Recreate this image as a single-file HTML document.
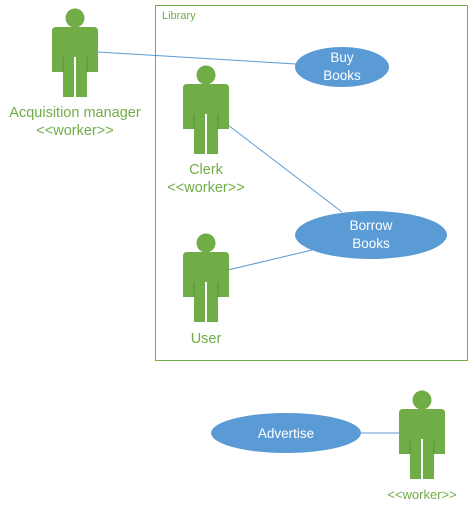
<!DOCTYPE html><html><head><style>body{margin:0;background:#fff}</style></head><body>
<svg width="470" height="513" xmlns="http://www.w3.org/2000/svg" font-family="Liberation Sans, sans-serif">
<defs><g id="a">
<circle cx="0" cy="-14" r="9.5" fill="#70ad47"/>
<path d="M-23,-1 Q-23,-5 -19,-5 L19,-5 Q23,-5 23,-1 L23,40 L12,40 L12,65 L1,65 L1,25 L-1,25 L-1,65 L-12,65 L-12,40 L-23,40 Z" fill="#70ad47"/>
<line x1="-12" y1="25" x2="-12" y2="40" stroke="#5a8f38" stroke-width="1"/>
<line x1="12" y1="25" x2="12" y2="40" stroke="#5a8f38" stroke-width="1"/>
</g></defs>
<rect x="155.5" y="5.5" width="312" height="355" fill="none" stroke="#70ad47"/>
<text x="162" y="19" font-size="11" fill="#70ad47">Library</text>
<g stroke="#5b9bd5" stroke-width="1">
<line x1="98" y1="52" x2="296" y2="64"/>
<line x1="228" y1="125" x2="342" y2="212"/>
<line x1="228" y1="270" x2="312" y2="250"/>
<line x1="360" y1="433" x2="400" y2="433"/>
</g>
<ellipse cx="342" cy="67" rx="47" ry="20" fill="#5b9bd5"/>
<ellipse cx="371" cy="235" rx="76" ry="24" fill="#5b9bd5"/>
<ellipse cx="286" cy="433" rx="75" ry="20" fill="#5b9bd5"/>
<g fill="#fff" font-size="13.5" text-anchor="middle">
<text x="342" y="62">Buy</text><text x="342" y="80">Books</text>
<text x="371" y="230">Borrow</text><text x="371" y="248">Books</text>
<text x="286" y="438">Advertise</text>
</g>
<use href="#a" x="75" y="32"/>
<use href="#a" x="206" y="89"/>
<use href="#a" x="206" y="257"/>
<use href="#a" x="422" y="414"/>
<g fill="#70ad47" font-size="14.5" text-anchor="middle">
<text x="75" y="117">Acquisition manager</text><text x="75" y="135">&lt;&lt;worker&gt;&gt;</text>
<text x="206" y="174">Clerk</text><text x="206" y="192">&lt;&lt;worker&gt;&gt;</text>
<text x="206" y="343">User</text>
<text x="422" y="499" font-size="13">&lt;&lt;worker&gt;&gt;</text>
</g>
</svg></body></html>
